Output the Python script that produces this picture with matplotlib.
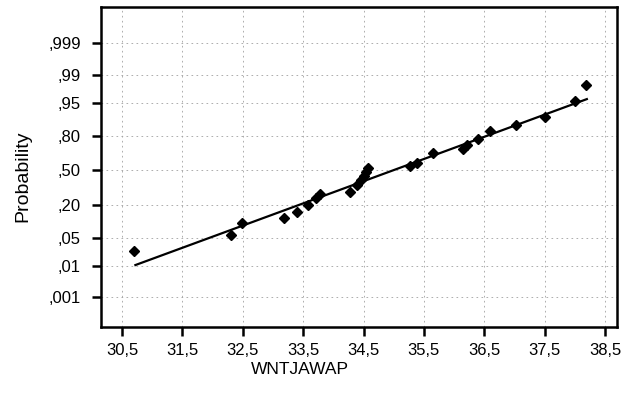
#!/usr/bin/env python3
"""Normal probability plot of WNTJAWAP, redrawn with matplotlib. Headless."""
from statistics import NormalDist
import matplotlib
matplotlib.use("Agg")
import matplotlib.pyplot as plt
import numpy as np

# data (x value, cumulative probability)
obs_x = [30.70, 32.30, 32.49, 33.18, 33.39, 33.58, 33.72, 33.78, 34.27, 34.39,
         34.45, 34.50, 34.54, 34.58, 35.27, 35.38, 35.65, 36.15, 36.22, 36.40,
         36.59, 37.02, 37.50, 38.00, 38.19]
obs_p = [0.024, 0.057, 0.097, 0.123, 0.156, 0.197, 0.245, 0.278, 0.300, 0.357,
         0.400, 0.440, 0.480, 0.516, 0.539, 0.570, 0.658, 0.700, 0.730, 0.772,
         0.829, 0.863, 0.903, 0.954, 0.981]
fit_x = [30.72, 38.20]
fit_p = [0.0104, 0.958]

x_ticks = [30.5, 31.5, 32.5, 33.5, 34.5, 35.5, 36.5, 37.5, 38.5]
x_labels = ["30,5", "31,5", "32,5", "33,5", "34,5", "35,5", "36,5", "37,5", "38,5"]
p_ticks = [0.001, 0.01, 0.05, 0.20, 0.50, 0.80, 0.95, 0.99, 0.999]
p_labels = [",001", ",01", ",05", ",20", ",50", ",80", ",95", ",99", ",999"]

plt.rcParams.update({"font.family": ["Liberation Sans", "DejaVu Sans"], "font.size": 12})

nd = NormalDist()
_ppf = np.vectorize(nd.inv_cdf, otypes=[float])
_cdf = np.vectorize(nd.cdf, otypes=[float])
def fwd(p):
    return _ppf(np.clip(np.asarray(p, float), 1e-12, 1 - 1e-12))
def inv(z):
    return _cdf(np.asarray(z, float))

fig = plt.figure(figsize=(6.22, 3.94), dpi=100)
ax = fig.add_axes([0.1624, 0.170, 0.8296, 0.8122])
ax.set_yscale("function", functions=(fwd, inv))

ax.plot(fit_x, fit_p, color="black", lw=1.6, zorder=3)
ax.plot(obs_x, obs_p, linestyle="none", marker="D", ms=5.5, color="black", zorder=4)

ax.set_xlim(30.15, 38.7)
ax.set_ylim(0.0000667, 0.999964)
ax.set_xticks(x_ticks, x_labels)
ax.set_yticks(p_ticks, p_labels)
ax.minorticks_off()
ax.grid(True, color="#a0a0a0", lw=0.6, linestyle=(0, (2, 4)))
ax.set_axisbelow(True)

for s in ax.spines.values():
    s.set_linewidth(1.8)
ax.tick_params(axis="both", direction="out", width=1.8, length=6.5, colors="black")
ax.tick_params(axis="y", pad=8)
ax.tick_params(axis="x", pad=5)

ax.set_ylabel("Probability", fontsize=14)
ax.yaxis.set_label_coords(-0.134, 0.472)
ax.set_xlabel("WNTJAWAP", fontsize=12.5)
ax.xaxis.set_label_coords(0.386, -0.11)

fig.savefig("out.png", dpi=100, facecolor="white")
print("saved out.png")
